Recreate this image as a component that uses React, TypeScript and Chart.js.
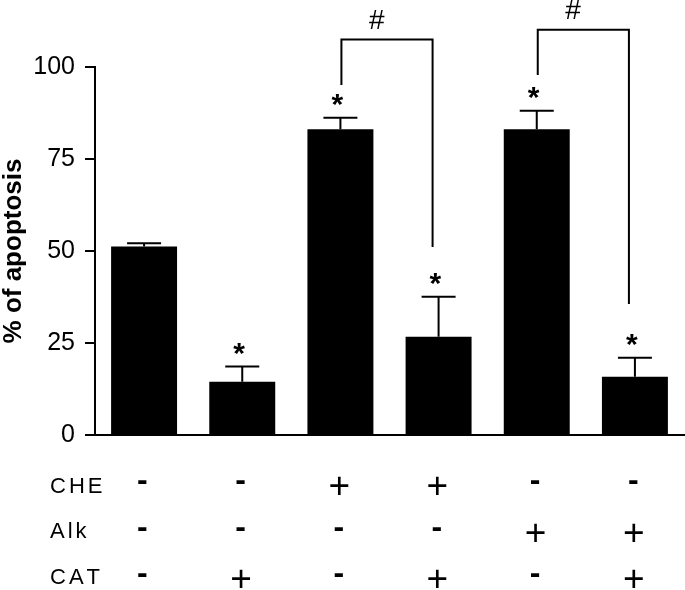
import React, { useEffect, useRef } from "react";
import { Chart, registerables } from "chart.js";

Chart.register(...registerables);

// ---- data ----
const categories = ["1", "2", "3", "4", "5", "6"];
const apoptosis = [51.2, 14.5, 83.1, 26.7, 83.1, 15.8];
const errors = [0.9, 4.1, 3.1, 10.9, 5.0, 5.2];
const significant = [false, true, true, true, true, true];
const rowLabels = ["CHE", "Alk", "CAT"];
const cheRow = ["-", "-", "+", "+", "-", "-"];
const alkRow = ["-", "-", "-", "-", "+", "+"];
const catRow = ["-", "+", "-", "+", "-", "+"];
const yTicks = [0, 25, 50, 75, 100];
const bracketFrom = [2, 4];
const bracketTo = [3, 5];
const bracketTop = [107.5, 110.1];
const bracketLeftEnd = [95.1, 97.8];
const bracketRightEnd = [51.1, 35.6];
const bracketMark = ["#", "#"];

// ---- style ----
const FONT = '"Liberation Sans", Arial, Helvetica, sans-serif';
const ROW_Y = [483.5, 530.5, 576.5];
const ROW_LABEL_X = 50;
const ROW_BASELINE = [493, 538, 584];
const ROW_LABEL_SPACING = 3;

function drawCentered(ctx: CanvasRenderingContext2D, t: string, cx: number, cy: number) {
  ctx.textAlign = "left";
  ctx.textBaseline = "alphabetic";
  const m = ctx.measureText(t);
  const l = m.actualBoundingBoxLeft;
  const r = m.actualBoundingBoxRight;
  const a = m.actualBoundingBoxAscent;
  const d = m.actualBoundingBoxDescent;
  const x0 = cx - (r - l) / 2;
  const y0 = cy - (d - a) / 2;
  ctx.fillText(t, x0, y0);
}

function drawSpaced(ctx: CanvasRenderingContext2D, t: string, x: number, y: number, sp: number) {
  ctx.textAlign = "left";
  ctx.textBaseline = "alphabetic";
  let cx = x;
  for (const ch of t) {
    ctx.fillText(ch, cx, y);
    cx += ctx.measureText(ch).width + sp;
  }
}

const annotations = {
  id: "annotations",
  afterDatasetsDraw(chart: any) {
    const ctx: CanvasRenderingContext2D = chart.ctx;
    const x = chart.scales.x;
    const y = chart.scales.y;
    ctx.save();
    ctx.strokeStyle = "#000";
    ctx.fillStyle = "#000";
    ctx.lineWidth = 2;
    // error bars + stars
    apoptosis.forEach((v, i) => {
      const cx = x.getPixelForValue(i);
      const yTop = y.getPixelForValue(v);
      const yErr = y.getPixelForValue(v + errors[i]);
      ctx.beginPath();
      ctx.moveTo(cx, yTop);
      ctx.lineTo(cx, yErr);
      ctx.moveTo(cx - 17, yErr);
      ctx.lineTo(cx + 17, yErr);
      ctx.stroke();
      if (significant[i]) {
        ctx.font = `bold 30px ${FONT}`;
        drawCentered(ctx, "*", cx - 3, yErr - 18);
      }
    });
    // brackets
    bracketFrom.forEach((f, k) => {
      const x1 = x.getPixelForValue(f) + 1;
      const x2 = x.getPixelForValue(bracketTo[k]) - 6;
      const yt = y.getPixelForValue(bracketTop[k]);
      const yl = y.getPixelForValue(bracketLeftEnd[k]);
      const yr = y.getPixelForValue(bracketRightEnd[k]);
      ctx.beginPath();
      ctx.moveTo(x1, yl);
      ctx.lineTo(x1, yt);
      ctx.lineTo(x2, yt);
      ctx.lineTo(x2, yr);
      ctx.stroke();
      ctx.font = `28px ${FONT}`;
      drawCentered(ctx, bracketMark[k], (x1 + x2) / 2 - 10, yt - 20);
    });
    // treatment table
    const rows = [cheRow, alkRow, catRow];
    rows.forEach((row, r) => {
      ctx.font = `22px ${FONT}`;
      drawSpaced(ctx, rowLabels[r], ROW_LABEL_X, ROW_BASELINE[r], ROW_LABEL_SPACING);
      row.forEach((s, i) => {
        const cx = x.getPixelForValue(i) - 1.5;
        ctx.font = s === "+" ? `37px ${FONT}` : `bold 32px ${FONT}`;
        drawCentered(ctx, s, cx, ROW_Y[r] + (s === "+" ? 1.5 : -1.5));
      });
    });
    ctx.restore();
  },
};

export default function App() {
  const ref = useRef<HTMLCanvasElement | null>(null);
  useEffect(() => {
    if (!ref.current) return;
    const chart = new Chart(ref.current, {
      type: "bar",
      data: {
        labels: categories,
        datasets: [
          {
            data: apoptosis,
            backgroundColor: "#000",
            borderWidth: 0,
            barPercentage: 0.672,
            categoryPercentage: 1,
          },
        ],
      },
      options: {
        responsive: false,
        animation: false,
        devicePixelRatio: 1,
        layout: { padding: { top: 67, right: 1, bottom: 155, left: 0 } },
        plugins: { legend: { display: false }, tooltip: { enabled: false } },
        scales: {
          x: {
            grid: { display: false, drawTicks: false },
            border: { display: true, color: "#000", width: 2 },
            ticks: { display: false },
          },
          y: {
            min: 0,
            max: 100,
            afterFit: (s: any) => {
              s.width = 95;
            },
            afterBuildTicks: (s: any) => {
              s.ticks = yTicks.map((v) => ({ value: v }));
            },
            grid: {
              display: true,
              drawOnChartArea: false,
              drawTicks: true,
              tickLength: 10,
              color: "#000",
              lineWidth: 2,
            },
            border: { display: true, color: "#000", width: 2 },
            ticks: {
              padding: 10,
              color: "#000",
              font: { family: FONT, size: 25 },
            },
            title: {
              display: true,
              text: "% of apoptosis",
              color: "#000",
              padding: 0,
              font: { family: FONT, size: 26, weight: "bold", lineHeight: 1.04 },
            },
          },
        },
      },
      plugins: [annotations],
    });
    return () => chart.destroy();
  }, []);
  return (
    <div style={{ position: "absolute", left: 0, top: 0, width: 685, height: 590, background: "#fff" }}>
      <canvas ref={ref} width={685} height={590} />
    </div>
  );
}
